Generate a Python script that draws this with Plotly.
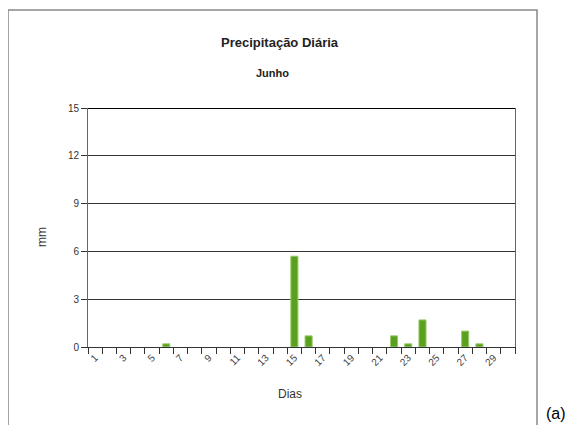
import plotly.graph_objects as go

days = list(range(1, 31))
precip = [0, 0, 0, 0, 0, 0.2, 0, 0, 0, 0,
          0, 0, 0, 0, 5.7, 0.7, 0, 0, 0, 0,
          0, 0.7, 0.2, 1.7, 0, 0, 1.0, 0.2, 0, 0]
tick_labels = [str(d) if d % 2 == 1 else "" for d in days]
y_ticks = [0, 3, 6, 9, 12, 15]

OFF = 8  # default page body margin
W, H = 573 - OFF, 425 - OFF
L, R, T, B = 88 - OFF, 515 - OFF, 108 - OFF, 347 - OFF
pw, ph = R - L, B - T

def px(x):
    return (x - OFF - L) / pw

def py(y):
    return (B - (y - OFF)) / ph

edge = ["#9ccc70" if v > 0 else "rgba(0,0,0,0)" for v in precip]

fig = go.Figure()
fig.add_trace(go.Bar(
    x=[str(d) for d in days], y=precip, width=0.5,
    marker=dict(color="#58a01e", line=dict(color=edge, width=1)),
    hoverinfo="x+y",
))

font = "Liberation Sans, Arial, sans-serif"

def note(text, x, y, size, color="#333", angle=0, xanchor="center"):
    return dict(text=text, x=px(x), y=py(y), xref="paper", yref="paper",
                xanchor=xanchor, yanchor="middle", showarrow=False,
                textangle=angle, font=dict(family=font, size=size, color=color))

fig.update_layout(
    width=W, height=H,
    margin=dict(l=L, r=W - R, t=T, b=H - B),
    paper_bgcolor="white", plot_bgcolor="white",
    showlegend=False,
    font=dict(family=font, size=10, color="#333"),
    xaxis=dict(
        type="category", tickmode="array",
        tickvals=[str(d) for d in days], ticktext=tick_labels,
        tickson="boundaries", ticks="outside", ticklen=6, tickcolor="#333",
        tickangle=-45, tickfont=dict(size=10, color="#444"),
        showline=True, linecolor="#333", linewidth=1,
        showgrid=False, zeroline=False, range=[-0.5, 29.5],
    ),
    yaxis=dict(
        range=[0, 15], tickmode="array", tickvals=y_ticks,
        ticks="outside", ticklen=6, tickcolor="#333",
        tickfont=dict(size=10, color="#333"),
        showline=True, linecolor="#666", linewidth=1, mirror=True,
        showgrid=True, gridcolor="#333", gridwidth=1, zeroline=False,
    ),
    shapes=[
        dict(type="rect", xref="paper", yref="paper",
             x0=px(8), x1=px(537), y0=py(440), y1=py(10),
             line=dict(color="#888", width=1.5), fillcolor="rgba(0,0,0,0)",
             layer="below"),
        dict(type="line", xref="paper", yref="y", x0=0, x1=1, y0=15, y1=15,
             line=dict(color="#000", width=2)),
    ],
    annotations=[
        note("<b>Precipitação Diária</b>", 280, 42, 13, "#222"),
        note("<b>Junho</b>", 272, 73, 11, "#222"),
        note("Dias", 290, 394, 12),
        note("mm", 42, 237, 12, angle=-90),
        note("(a)", 544, 413, 16, "#000", xanchor="left"),
    ],
)

fig.write_html("out.html")
